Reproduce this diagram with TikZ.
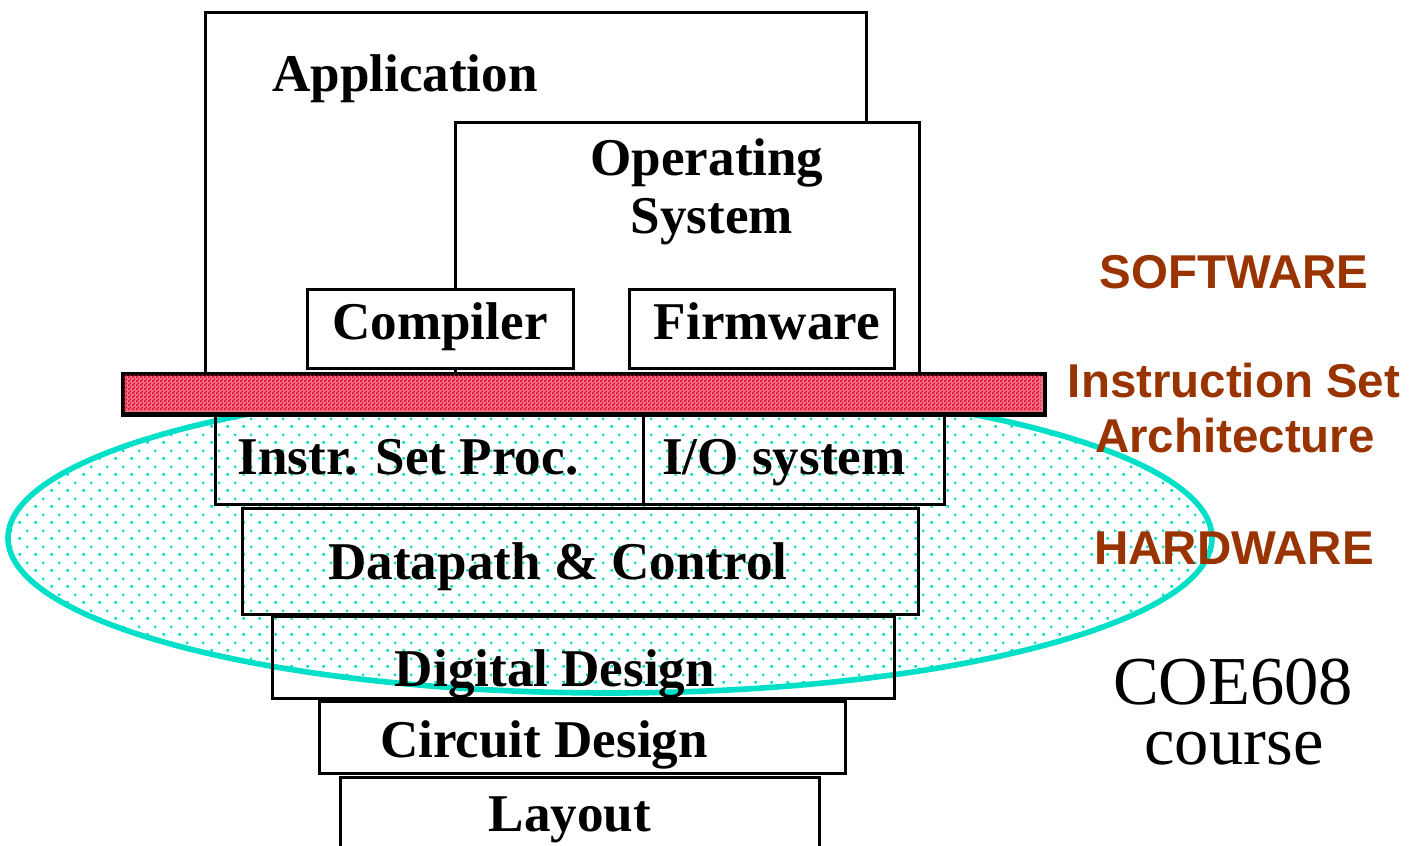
\documentclass[tikz,border=0pt]{standalone}
\usepackage{fontspec}
\setmainfont{Liberation Serif}
\newfontfamily\arialfont{Liberation Sans}
\usetikzlibrary{patterns}
\definecolor{teal1}{RGB}{0,224,200}
\definecolor{brown1}{RGB}{153,51,0}
\definecolor{isared}{RGB}{226,0,40}
\pgfdeclarepatternformonly{tealdots}{\pgfqpoint{0pt}{0pt}}{\pgfqpoint{4.552pt}{4.552pt}}{\pgfqpoint{4.552pt}{4.552pt}}{%
  \pgfpathrectangle{\pgfqpoint{0.75pt}{0.75pt}}{\pgfqpoint{0.72pt}{0.72pt}}%
  \pgfpathrectangle{\pgfqpoint{3.026pt}{3.026pt}}{\pgfqpoint{0.72pt}{0.72pt}}%
  \pgfusepath{fill}}
\pgfdeclarepatternformonly{finechecker}{\pgfqpoint{0pt}{0pt}}{\pgfqpoint{1.138pt}{1.138pt}}{\pgfqpoint{1.138pt}{1.138pt}}{%
  \pgfpathrectangle{\pgfqpoint{0pt}{0pt}}{\pgfqpoint{0.569pt}{0.569pt}}%
  \pgfpathrectangle{\pgfqpoint{0.569pt}{0.569pt}}{\pgfqpoint{0.569pt}{0.569pt}}%
  \pgfusepath{fill}}
\tikzset{
  box/.style={draw=black, line width=0.85pt, rectangle, inner sep=0pt, anchor=north west},
  swbox/.style={box, fill=white},
  lbl/.style={inner sep=0pt, anchor=base, font=\fontsize{15.1}{18}\selectfont\bfseries},
  side/.style={inner sep=0pt, anchor=base, text=brown1, font=\arialfont\fontsize{13.5}{16}\selectfont\bfseries},
  course/.style={inner sep=0pt, anchor=base, font=\fontsize{19.5}{23}\selectfont},
}
\begin{document}
\begin{tikzpicture}[x=0.01cm, y=-0.01cm]
\useasboundingbox (0,0) rectangle (1414,846);
% hardware ellipse
\path[pattern=tealdots, pattern color=teal1] (610,538) ellipse [x radius=602, y radius=155];
\draw[teal1, line width=1.6pt] (610,538) ellipse [x radius=602, y radius=155];
% hardware boxes
\node[box, minimum width=4.28cm, minimum height=0.91cm] (isp) at (214,412) {};
\node[box, minimum width=3.01cm, minimum height=0.91cm] (io) at (642,412) {};
\node[box, minimum width=6.76cm, minimum height=1.06cm] (dp) at (241,507) {};
\node[box, minimum width=6.22cm, minimum height=0.82cm] (dd) at (271,615) {};
\node[swbox, minimum width=5.26cm, minimum height=0.72cm] (cd) at (318,700) {};
\node[swbox, minimum width=4.79cm, minimum height=0.90cm] (lay) at (339,776) {};
% software boxes
\node[swbox, minimum width=6.61cm, minimum height=3.61cm] (app) at (204,11) {};
\node[swbox, minimum width=4.64cm, minimum height=2.51cm] (os) at (454,121) {};
\node[swbox, minimum width=2.66cm, minimum height=0.79cm] (comp) at (306,288) {};
\node[swbox, minimum width=2.65cm, minimum height=0.79cm] (firm) at (628,288) {};
% ISA bar
\node[box, fill=isared!55!white, minimum width=9.20cm, minimum height=0.39cm] (isa) at (122,373) {};
\path[pattern=finechecker, pattern color=isared] (123.5,374.5) rectangle (1040.5,410.5);
\draw[line width=0.85pt] (isa.north west) rectangle (isa.south east);
% labels
\node[lbl] (tapp) at (405,92) {Application};
\node[lbl] (tos1) at (707,176) {Operating};
\node[lbl] (tos2) at (712,234) {System};
\node[lbl] (tcomp) at (440,340) {Compiler};
\node[lbl] (tfirm) at (767,340) {Firmware};
\node[lbl] (tisp) at (408,475) {Instr. Set Proc.};
\node[lbl] (tio) at (784,475) {I/O system};
\node[lbl] (tdp) at (558,580) {Datapath \& Control};
\node[lbl] (tdd) at (555,687) {Digital Design};
\node[lbl] (tcd) at (544,758) {Circuit Design};
\node[lbl] (tlay) at (570,832) {Layout};
\node[side] (sw) at (1234,289) {SOFTWARE};
\node[side] (isa1) at (1234,398) {Instruction Set};
\node[side] (isa2) at (1235,453) {Architecture};
\node[side] (hw) at (1234,565) {HARDWARE};
\node[course] (coe) at (1233,705) {COE608};
\node[course] (crs) at (1234,765) {course};
\end{tikzpicture}
\end{document}
